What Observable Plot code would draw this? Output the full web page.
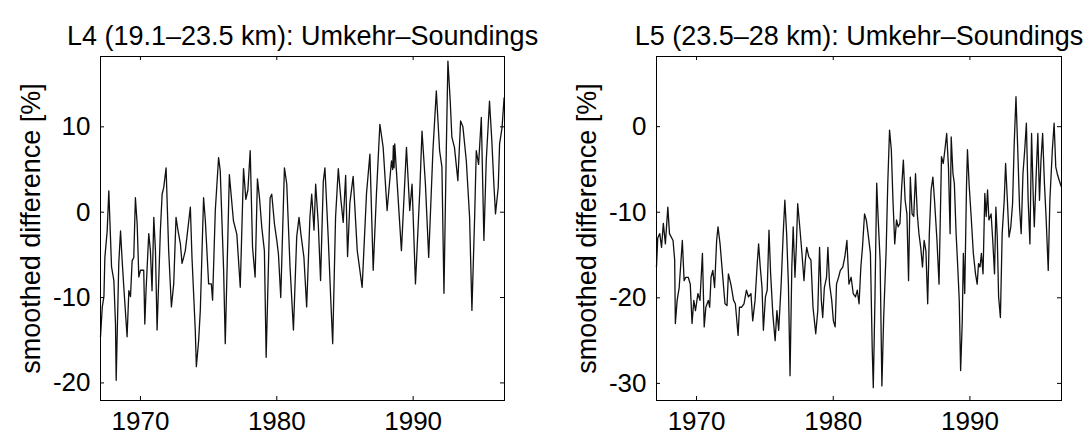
<!DOCTYPE html>
<html><head><meta charset="utf-8">
<script src="https://cdn.jsdelivr.net/npm/d3@7"></script>
<script src="https://cdn.jsdelivr.net/npm/@observablehq/plot@0.6"></script>
<style>
html,body{margin:0;padding:0;background:#fff;}
#wrap{position:relative;width:1092px;height:436px;overflow:hidden;background:#fff;}
.panel{position:absolute;top:0;}
</style></head><body>
<div id="wrap"><div id="p1" class="panel" style="left:0"></div><div id="p2" class="panel" style="left:546px"></div></div>
<script>
const xTicks = [1970, 1980, 1990];
const xDomain = [1967.07, 1996.7];
const yLabel = "smoothed difference [%]";

const l4Title = "L4 (19.1–23.5 km): Umkehr–Soundings";
const l4Ticks = [-20, -10, 0, 10];
const l4Domain = [-22.06, 18.24];
const l4Years = [1967.07,1967.20,1967.32,1967.39,1967.56,1967.68,1967.88,1968.05,1968.17,1968.22,1968.41,1968.54,1968.66,1968.78,1969.02,1969.15,1969.27,1969.39,1969.51,1969.63,1969.76,1969.88,1970.00,1970.24,1970.32,1970.41,1970.61,1970.73,1970.85,1970.98,1971.10,1971.22,1971.46,1971.59,1971.71,1971.88,1972.07,1972.27,1972.44,1972.61,1972.76,1972.93,1973.05,1973.17,1973.29,1973.41,1973.66,1973.78,1974.02,1974.10,1974.27,1974.39,1974.63,1974.76,1975.00,1975.20,1975.29,1975.49,1975.73,1975.85,1976.10,1976.22,1976.52,1976.82,1977.07,1977.32,1977.56,1977.73,1977.88,1978.05,1978.22,1978.41,1978.58,1978.73,1978.90,1979.09,1979.22,1979.51,1979.63,1979.83,1980.00,1980.12,1980.29,1980.56,1980.73,1980.97,1981.22,1981.46,1981.63,1981.77,1981.99,1982.19,1982.43,1982.56,1982.73,1982.85,1983.04,1983.21,1983.41,1983.53,1983.77,1983.97,1984.10,1984.31,1984.51,1984.70,1984.87,1985.05,1985.19,1985.36,1985.60,1985.90,1986.26,1986.58,1986.83,1987.07,1987.31,1987.56,1987.80,1988.09,1988.41,1988.50,1988.55,1988.60,1988.65,1988.77,1989.14,1989.51,1989.75,1989.92,1990.17,1990.49,1990.65,1990.90,1991.14,1991.45,1991.70,1991.94,1992.11,1992.26,1992.43,1992.55,1992.72,1992.84,1993.03,1993.28,1993.48,1993.65,1993.90,1994.14,1994.31,1994.51,1994.63,1994.80,1995.00,1995.19,1995.36,1995.60,1995.77,1995.92,1996.04,1996.24,1996.34,1996.52,1996.67];
const l4Values = [-14.6,-11.1,-9.9,-5.3,-2.2,2.5,-6.4,-8.0,-13.1,-19.7,-6.0,-2.2,-5.7,-8.8,-14.6,-9.2,-9.9,-5.7,-5.3,1.7,-1.4,-7.6,-6.8,-6.8,-13.1,-9.2,-2.5,-4.5,-9.2,-0.6,-4.5,-13.8,-2.2,2.1,2.9,5.2,-4.5,-11.1,-8.4,-0.6,-2.2,-3.7,-6.0,-5.3,-4.5,-2.9,0.6,-5.3,-13.8,-18.1,-15.0,-11.5,1.7,-1.0,-8.4,-8.4,-10.3,0.2,6.4,4.9,-6.8,-15.4,4.4,-1.0,-2.6,-8.8,5.1,1.5,2.6,7.2,-4.1,-7.6,3.9,1.7,-1.8,-4.5,-17.0,1.7,2.1,-1.4,-3.3,-4.9,-10.0,5.2,3.3,-6.4,-13.8,-2.9,-0.6,-2.6,-5.3,-11.1,-0.6,2.1,-2.1,3.3,-1.3,-8.0,3.6,5.2,-2.9,-10.7,-15.4,-0.6,5.1,1.5,-1.2,4.3,-5.2,1.1,4.2,-4.5,-8.8,2.2,6.8,-6.8,2.2,10.3,7.6,0.2,6.0,5.0,7.8,5.2,8.0,4.9,-4.5,7.6,0.2,3.3,-8.4,2.6,9.5,3.3,-5.3,7.2,14.2,7.2,5.3,-9.5,7.2,17.7,13.0,8.8,7.6,3.7,10.7,10.0,6.0,-0.6,-11.5,-0.6,7.2,5.6,11.1,-3.3,6.0,13.0,8.4,3.3,-0.2,2.9,8.0,9.9,13.4];

const l5Title = "L5 (23.5–28 km): Umkehr–Soundings";
const l5Ticks = [-30, -20, -10, 0];
const l5Domain = [-32.0, 8.2];
const l5Years = [1967.07,1967.16,1967.31,1967.44,1967.57,1967.72,1967.90,1968.02,1968.28,1968.40,1968.45,1968.58,1968.73,1968.96,1969.09,1969.21,1969.39,1969.54,1969.67,1969.80,1969.92,1970.10,1970.25,1970.43,1970.56,1970.68,1970.86,1970.96,1971.06,1971.19,1971.32,1971.47,1971.57,1971.72,1971.90,1972.08,1972.23,1972.33,1972.51,1972.71,1972.84,1973.04,1973.14,1973.30,1973.47,1973.65,1973.80,1973.98,1974.11,1974.28,1974.44,1974.54,1974.66,1974.79,1974.89,1975.04,1975.17,1975.30,1975.42,1975.58,1975.75,1975.88,1976.01,1976.19,1976.34,1976.46,1976.59,1976.72,1976.84,1976.97,1977.07,1977.20,1977.30,1977.40,1977.55,1977.71,1977.86,1977.96,1978.06,1978.21,1978.37,1978.52,1978.72,1978.87,1979.00,1979.13,1979.23,1979.35,1979.51,1979.61,1979.73,1979.89,1980.01,1980.14,1980.24,1980.39,1980.52,1980.70,1980.85,1981.00,1981.15,1981.31,1981.46,1981.63,1981.76,1981.89,1982.02,1982.14,1982.29,1982.42,1982.55,1982.72,1982.85,1982.93,1983.05,1983.18,1983.28,1983.43,1983.56,1983.69,1983.87,1983.99,1984.12,1984.25,1984.37,1984.50,1984.63,1984.75,1984.88,1985.01,1985.13,1985.26,1985.39,1985.51,1985.64,1985.77,1985.89,1986.02,1986.15,1986.27,1986.40,1986.53,1986.65,1986.78,1986.91,1987.03,1987.16,1987.29,1987.41,1987.59,1987.74,1987.92,1988.05,1988.17,1988.30,1988.43,1988.55,1988.63,1988.76,1988.86,1988.99,1989.11,1989.22,1989.32,1989.44,1989.52,1989.62,1989.75,1989.82,1989.95,1990.08,1990.25,1990.41,1990.53,1990.63,1990.74,1990.84,1990.96,1991.09,1991.19,1991.29,1991.39,1991.55,1991.67,1991.80,1991.90,1992.00,1992.10,1992.23,1992.36,1992.51,1992.61,1992.74,1992.86,1992.99,1993.12,1993.24,1993.37,1993.50,1993.63,1993.75,1993.88,1994.01,1994.13,1994.26,1994.39,1994.51,1994.64,1994.71,1994.84,1994.97,1995.09,1995.20,1995.32,1995.45,1995.57,1995.73,1995.85,1996.03,1996.16,1996.28,1996.39,1996.52,1996.68];
const l5Values = [-16.4,-13.0,-12.5,-14.1,-11.3,-13.7,-9.4,-12.5,-13.3,-15.6,-23.0,-20.3,-18.8,-13.3,-18.0,-17.6,-17.6,-18.4,-23.0,-20.3,-21.5,-19.5,-20.3,-14.8,-23.4,-21.1,-20.3,-21.1,-17.6,-16.8,-18.8,-13.3,-11.7,-13.7,-17.2,-20.7,-20.9,-17.2,-18.4,-20.3,-20.7,-24.4,-21.1,-21.1,-20.7,-19.1,-19.9,-19.5,-22.7,-20.3,-16.0,-13.7,-16.4,-18.8,-23.8,-19.9,-19.1,-12.1,-17.2,-21.9,-25.0,-21.5,-23.8,-18.4,-12.5,-8.6,-12.5,-18.4,-29.1,-16.4,-11.7,-17.6,-14.0,-9.0,-11.7,-14.8,-18.0,-15.6,-14.1,-15.2,-15.6,-21.1,-24.2,-21.5,-14.1,-20.3,-22.3,-18.8,-17.6,-14.1,-18.4,-20.3,-22.7,-23.4,-18.4,-17.6,-16.8,-16.4,-15.2,-13.3,-18.4,-17.6,-19.5,-19.9,-19.1,-20.7,-16.4,-14.1,-10.2,-10.9,-12.5,-14.8,-25.8,-30.5,-20.3,-6.6,-10.5,-15.6,-30.3,-22.3,-14.5,-6.6,-0.4,-2.7,-8.6,-13.7,-10.9,-11.7,-11.3,-7.0,-3.9,-8.6,-10.2,-18.0,-5.9,-10.2,-10.5,-5.5,-10.2,-12.5,-14.1,-16.4,-13.3,-14.5,-20.7,-12.5,-7.4,-5.9,-8.6,-13.3,-18.4,-3.5,-4.3,-2.7,-0.8,-4.7,-12.5,-1.2,-5.5,-6.6,-12.5,-16.4,-20.3,-28.5,-22.7,-14.8,-19.5,-7.0,-2.7,-7.0,-10.2,-14.8,-17.2,-18.4,-16.0,-16.4,-14.8,-17.2,-7.8,-10.5,-7.4,-10.9,-10.2,-13.3,-17.2,-9.4,-12.9,-19.9,-22.3,-12.5,-8.6,-4.3,-8.6,-12.9,-11.7,-9.0,-2.0,3.5,-2.7,-9.4,-12.5,-5.5,-2.7,0.4,-8.6,-13.7,-0.8,-8.6,-11.7,-5.9,-0.8,-8.6,-3.9,-0.8,-6.6,-10.5,-16.8,-8.6,-2.7,0.4,-4.7,-5.5,-6.2,-7.0];

function panel({years, values, yDomain, yTicks, title, marginLeft, marginRight}) {
  const data = years.map((t, i) => ({t, v: values[i]}));
  const W = 546, H = 436, mt = 56, mb = 36;
  const innerW = W - marginLeft - marginRight, innerH = H - mt - mb;
  const tickLen = 4;
  const fmt = d => String(d);
  return Plot.plot({
    width: W, height: H, marginLeft, marginRight, marginTop: mt, marginBottom: mb,
    style: {fontFamily: "'Liberation Sans', Arial, Helvetica, sans-serif", fontSize: "26px", background: "white", color: "black", overflow: "visible"},
    x: {domain: xDomain},
    y: {domain: yDomain},
    marks: [
      Plot.line(data, {x: "t", y: "v", stroke: "#111", strokeWidth: 1.3}),
      Plot.frame({stroke: "black", strokeWidth: 1}),
      Plot.ruleX(xTicks, {x: d => d, insetTop: innerH - tickLen, stroke: "black"}),
      Plot.ruleX(xTicks, {x: d => d, insetBottom: innerH - tickLen, stroke: "black"}),
      Plot.ruleY(yTicks, {y: d => d, insetRight: innerW - tickLen, stroke: "black"}),
      Plot.ruleY(yTicks, {y: d => d, insetLeft: innerW - tickLen, stroke: "black"}),
      Plot.axisX({ticks: xTicks, tickSize: 0, tickPadding: 11, fontSize: 26, tickFormat: fmt, label: null}),
      Plot.axisY({ticks: yTicks, tickSize: 0, tickPadding: 10, fontSize: 26, tickFormat: fmt, label: null}),
      Plot.text([yLabel], {text: d => d, frameAnchor: "left", textAnchor: "middle", lineAnchor: "middle", dx: -69, rotate: -90, fontSize: 27, fill: "black"}),
      Plot.text([title], {text: d => d, frameAnchor: "top", textAnchor: "middle", dy: -31, fontSize: 27, fill: "black"})
    ]
  });
}

document.getElementById("p1").appendChild(panel({years: l4Years, values: l4Values, yDomain: l4Domain, yTicks: l4Ticks, title: l4Title, marginLeft: 100, marginRight: 42}));
document.getElementById("p2").appendChild(panel({years: l5Years, values: l5Values, yDomain: l5Domain, yTicks: l5Ticks, title: l5Title, marginLeft: 110, marginRight: 31}));
</script>
</body></html>
